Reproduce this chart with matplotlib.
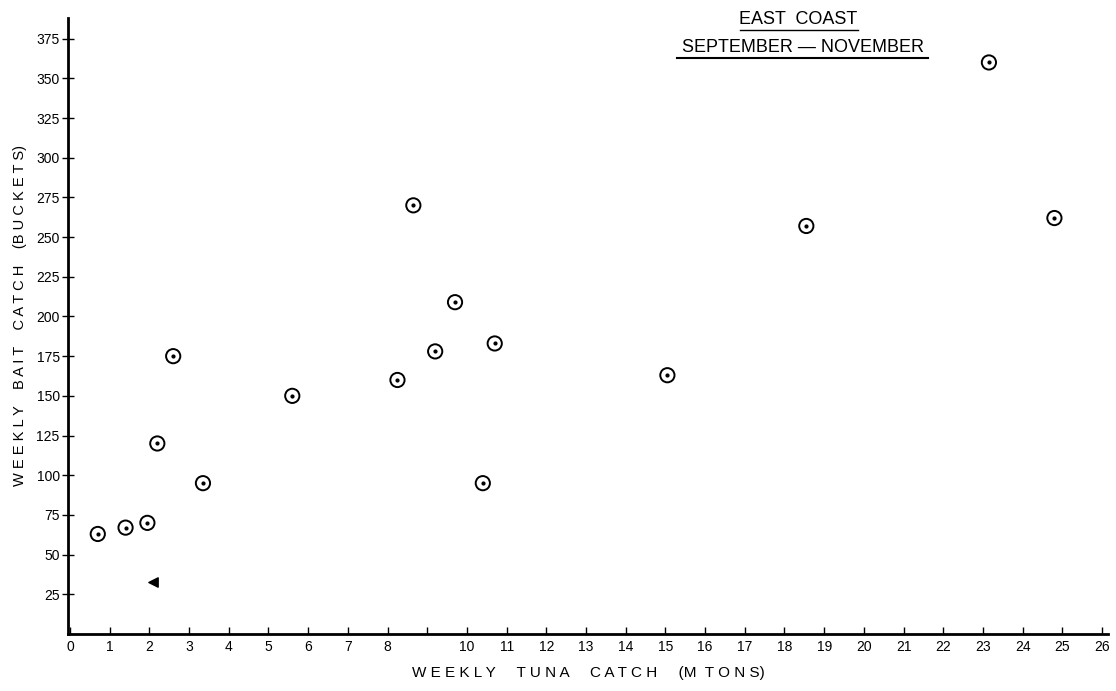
import matplotlib.pyplot as plt

# weekly tuna catch (M tons) vs weekly bait catch (buckets)
tuna_tons = [0.7, 1.4, 1.95, 2.2, 2.6, 3.35, 5.6, 8.25, 8.65, 9.2, 9.7, 10.4, 10.7, 15.05, 18.55, 23.15, 24.8]
bait_buckets = [63, 67, 70, 120, 175, 95, 150, 160, 270, 178, 209, 95, 183, 163, 257, 360, 262]

# odd triangle mark near the axis
tri_x = [2.1]
tri_y = [33]

x_ticks = list(range(0, 27))
x_labels = ['' if t == 9 else str(t) for t in x_ticks]
y_ticks = list(range(25, 376, 25))

plt.rcParams['font.family'] = ['Liberation Sans', 'DejaVu Sans']

fig = plt.figure(figsize=(11.16, 6.91), dpi=100)
ax = fig.add_axes([68 / 1116, 57 / 691, 1040 / 1116, 616 / 691])

ax.scatter(tuna_tons, bait_buckets, s=105, facecolors='none', edgecolors='black', linewidths=1.4, zorder=3)
ax.scatter(tuna_tons, bait_buckets, s=4, color='black', zorder=4)
ax.scatter(tri_x, tri_y, s=45, marker='<', color='black', zorder=3)

ax.set_xlim(-0.05, 26.15)
ax.set_ylim(0, 388)

for side in ['top', 'right']:
    ax.spines[side].set_visible(False)
for side in ['left', 'bottom']:
    ax.spines[side].set_linewidth(2)

ax.set_xticks(x_ticks)
ax.set_xticklabels(x_labels)
ax.set_yticks(y_ticks)
ax.set_yticklabels([str(v) for v in y_ticks])
ax.tick_params(axis='x', direction='in', length=5, width=1, pad=4, labelsize=10)
ax.tick_params(axis='y', direction='inout', length=8, width=1, pad=2, labelsize=10)

ax.set_xlabel('W E E K L Y     T U N A     C A T C H     (M  T O N S)', fontsize=11, labelpad=9)
fig.text(20 / 1116, 0.544, 'W E E K L Y    B A I T    C A T C H    (B U C K E T S)',
         rotation=90, fontsize=10.5, ha='center', va='center')

fig.text(798 / 1116, 1 - 20 / 691, 'EAST  COAST', fontsize=13, ha='center', va='center')
fig.text(803 / 1116, 1 - 47 / 691, 'SEPTEMBER — NOVEMBER', fontsize=13, ha='center', va='center')
fig.add_artist(plt.Line2D([740 / 1116, 858 / 1116], [1 - 30 / 691] * 2, color='black', lw=1))
fig.add_artist(plt.Line2D([677 / 1116, 928 / 1116], [1 - 58 / 691] * 2, color='black', lw=1.5))

fig.savefig('out.png', dpi=100)
